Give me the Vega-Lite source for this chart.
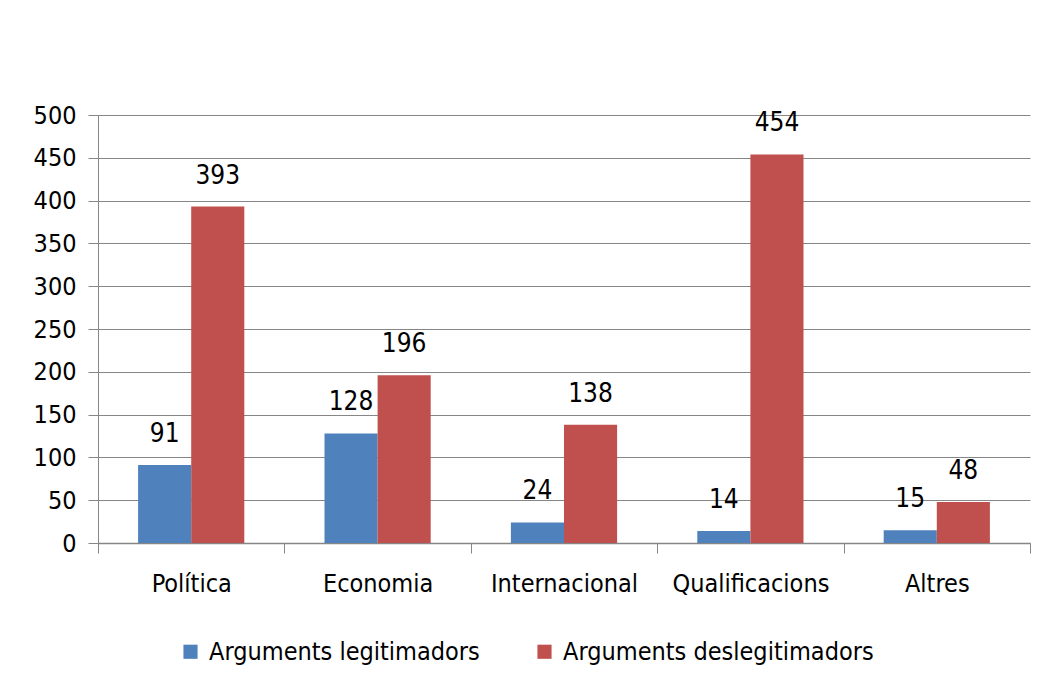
{
  "$schema": "https://vega.github.io/schema/vega-lite/v6.json",
  "width": 932,
  "height": 428,
  "autosize": {"type": "none"},
  "padding": {"left": 98, "top": 115, "right": 13, "bottom": 151},
  "background": "white",
  "config": {
    "view": {"stroke": null},
    "font": "DejaVu Sans Condensed, sans-serif"
  },
  "data": {
    "values": [
      {"cat": "Política", "serie": "Arguments legitimadors", "v": 91},
      {"cat": "Política", "serie": "Arguments deslegitimadors", "v": 393},
      {"cat": "Economia", "serie": "Arguments legitimadors", "v": 128},
      {"cat": "Economia", "serie": "Arguments deslegitimadors", "v": 196},
      {"cat": "Internacional", "serie": "Arguments legitimadors", "v": 24},
      {"cat": "Internacional", "serie": "Arguments deslegitimadors", "v": 138},
      {"cat": "Qualificacions", "serie": "Arguments legitimadors", "v": 14},
      {"cat": "Qualificacions", "serie": "Arguments deslegitimadors", "v": 454},
      {"cat": "Altres", "serie": "Arguments legitimadors", "v": 15},
      {"cat": "Altres", "serie": "Arguments deslegitimadors", "v": 48}
    ]
  },
  "encoding": {
    "x": {
      "field": "cat", "type": "nominal", "sort": null, "title": null,
      "scale": {"paddingInner": 0, "paddingOuter": 0},
      "axis": {
        "labelAngle": 0, "labelFontSize": 25, "labelColor": "black",
        "labelPadding": 18, "tickSize": 10, "tickColor": "#868686",
        "domainColor": "#868686", "domainWidth": 1.5, "tickBand": "extent",
        "labelFont": "DejaVu Sans Condensed, sans-serif"
      }
    },
    "xOffset": {
      "field": "serie", "type": "nominal",
      "sort": ["Arguments legitimadors", "Arguments deslegitimadors"],
      "scale": {"paddingInner": 0, "paddingOuter": 0.755}
    },
    "y": {
      "field": "v", "type": "quantitative", "title": null,
      "scale": {"domain": [0, 500], "nice": false},
      "axis": {
        "values": [0, 50, 100, 150, 200, 250, 300, 350, 400, 450, 500],
        "labelFontSize": 25, "labelColor": "black", "labelPadding": 12,
        "tickSize": 10, "tickColor": "#868686", "gridColor": "#868686",
        "gridWidth": 1.2, "domainColor": "#868686", "domainWidth": 1,
        "labelFont": "DejaVu Sans Condensed, sans-serif"
      }
    }
  },
  "layer": [
    {
      "mark": {"type": "bar"},
      "encoding": {
        "color": {
          "field": "serie", "type": "nominal",
          "sort": ["Arguments legitimadors", "Arguments deslegitimadors"],
          "scale": {"domain": ["Arguments legitimadors", "Arguments deslegitimadors"], "range": ["#4F81BD", "#C0504D"]},
          "legend": {
            "title": null, "orient": "none", "direction": "horizontal",
            "legendX": 80, "legendY": 524,
            "symbolType": "square", "symbolSize": 200, "symbolStrokeWidth": 0,
            "labelFontSize": 25, "labelColor": "black", "labelOffset": 6,
            "columnPadding": 52, "labelLimit": 400,
            "labelFont": "DejaVu Sans Condensed, sans-serif"
          }
        }
      }
    },
    {
      "mark": {"type": "text", "baseline": "bottom", "dy": -18, "fontSize": 26, "color": "black"},
      "encoding": {"text": {"field": "v", "type": "quantitative"}}
    }
  ]
}
